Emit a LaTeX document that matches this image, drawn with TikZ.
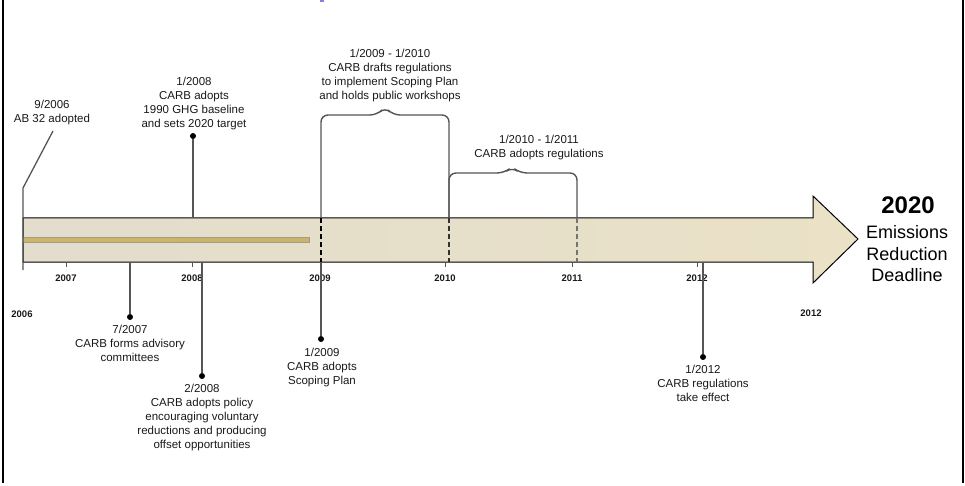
\documentclass[tikz,border=0pt]{standalone}
\usepackage{fontspec}
\setmainfont{Liberation Sans}
\definecolor{linegrey}{RGB}{85,85,85}
\definecolor{txt}{RGB}{25,25,25}
\definecolor{beigeL}{RGB}{226,221,205}
\definecolor{beigeR}{RGB}{234,225,198}
\definecolor{gold}{RGB}{201,180,110}
\definecolor{goldedge}{RGB}{165,155,125}
\definecolor{bluemark}{RGB}{130,130,215}
\begin{document}
\begin{tikzpicture}[x=1pt,y=-1pt,
  conn/.style={draw=linegrey,line width=1.3pt},
  callout/.style={align=center,inner sep=0pt,anchor=north,text=txt,font=\fontsize{11.5}{14}\selectfont},
  yearlbl/.style={inner sep=0pt,text=txt,font=\fontsize{9.5}{11}\selectfont\bfseries},
  dot/.style={circle,fill=black,inner sep=0pt,minimum size=6pt},
  tickmark/.style={draw=linegrey,line width=1pt},
  brace/.style={draw=linegrey,line width=1.4pt,rounded corners=7pt},
  bodydash/.style={line width=1.3pt,dash pattern=on 5pt off 3pt}]
\useasboundingbox (0,0) rectangle (965,486);
% frame sides
\draw[line width=2.5pt] (3,-1) -- (3,483);
\draw[line width=2.5pt] (963,-1) -- (963,483);
\fill[bluemark] (320,0) rectangle (324,2);
% arrow
\path[draw=black,line width=1pt,left color=beigeL,right color=beigeR]
  (23,218) -- (813,218) -- (813,196) -- (858,239) -- (813,283) -- (813,262) -- (23,262) -- cycle;
\node[draw=goldedge,fill=gold,line width=0.6pt,inner sep=0pt,minimum width=286pt,minimum height=5pt,anchor=west] (bar) at (23,239.5) {};
% dashed lines in body
\coordinate (d9t) at (321,218); \coordinate (d9b) at (321,262);
\coordinate (d10t) at (449,218); \coordinate (d10b) at (449,262);
\coordinate (d11t) at (577,218); \coordinate (d11b) at (577,262);
\draw[bodydash,black] (d9t) -- (d9b);
\draw[bodydash,black!80] (d10t) -- (d10b);
\draw[bodydash,black!55] (d11t) -- (d11b);
% ticks and year labels
\foreach \x/\y/\n in {66/2007/a,192/2008/b,320/2009/c,445/2010/d,572/2011/e,697/2012/f}{
  \coordinate (tk\n) at (\x,262);
  \coordinate (tkb\n) at (\x,267);
  \draw[tickmark] (tk\n) -- (tkb\n);
  \node[yearlbl] (yl\n) at (\x,278) {\y};
}
\node[yearlbl] (y2006) at (22,314) {2006};
\node[yearlbl] (y2012b) at (811,313) {2012};
% 9/2006
\node[callout] (t0906) at (52,100) {9/2006\\AB 32 adopted};
\coordinate (c06a) at (53,131);
\coordinate (c06b) at (23,188);
\coordinate (c06c) at (23,270);
\draw[conn] (c06a) -- (c06b) -- (c06c);
% 1/2008
\node[callout] (t0108) at (194,77) {1/2008\\CARB adopts\\1990 GHG baseline\\and sets 2020 target};
\node[dot] (p0108) at (193,136) {};
\coordinate (b0108) at (193,218);
\draw[conn] (p0108) -- (b0108);
% 7/2007
\node[callout] (t0707) at (130,325) {7/2007\\CARB forms advisory\\committees};
\node[dot] (p0707) at (130,317) {};
\coordinate (a0707) at (130,262);
\draw[conn] (a0707) -- (p0707);
% 2/2008
\node[callout] (t0208) at (202,384) {2/2008\\CARB adopts policy\\encouraging voluntary\\reductions and producing\\offset opportunities};
\node[dot] (p0208) at (202,376) {};
\coordinate (a0208) at (202,262);
\draw[conn] (a0208) -- (p0208);
% 1/2009
\node[callout] (t0109) at (322,348) {1/2009\\CARB adopts\\Scoping Plan};
\node[dot] (p0109) at (321,339) {};
\draw[conn] (d9b) -- (p0109);
% 1/2012
\node[callout] (t0112) at (703,365) {1/2012\\CARB regulations\\take effect};
\node[dot] (p0112) at (703,357) {};
\coordinate (a0112) at (703,262);
\draw[conn] (a0112) -- (p0112);
% bracket 1
\node[callout] (tb1) at (390,49) {1/2009 - 1/2010\\CARB drafts regulations\\to implement Scoping Plan\\and holds public workshops};
\coordinate (bk1p) at (385,107);
\draw[brace] (d9t) |- (377,115) -- (bk1p) -- (393,115) -| (d10t);
% bracket 2
\node[callout] (tb2) at (539,135) {1/2010 - 1/2011\\CARB adopts regulations};
\coordinate (bk2p) at (512,167);
\draw[brace] (d10t) |- (504,173) -- (bk2p) -- (520,173) -| (d11t);
% 2020
\node[inner sep=0pt,text=black,font=\fontsize{24}{28}\selectfont\bfseries] (y2020) at (908,205) {2020};
\node[align=center,inner sep=0pt,anchor=north,text=black,font=\fontsize{18}{21.5}\selectfont] (deadline) at (907,225.5) {Emissions\\Reduction\\Deadline};
\end{tikzpicture}
\end{document}
